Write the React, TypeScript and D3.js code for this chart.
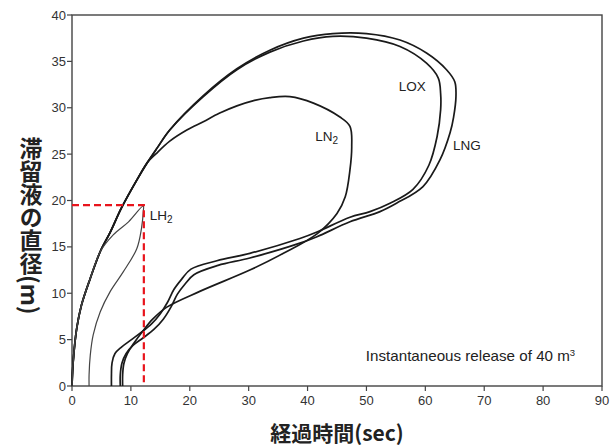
import React from "react";
import * as d3 from "d3";

type P = [number, number];

const xTicks = [0, 10, 20, 30, 40, 50, 60, 70, 80, 90];
const yTicks = [0, 5, 10, 15, 20, 25, 30, 35, 40];

const sharedRise: P[] = [[0,0],[0.2,2.6],[0.8,6.2],[1.6,8.7],[3.1,11.6],[4.8,14.5],[6.5,16.6],[8.4,19.2],[11,22.2],[12.8,24.1]];

const loxRest: P[] = [[14.5,25.7],[16.6,27.6],[22.3,31.2],[28,34.1],[33.6,36],[39.3,37.2],[44.3,37.7],[50,37.5],[55.7,36.6],[60.2,34.8],[62.2,33.2],[62.6,31.5],[62.6,29.8],[62.0,26.9],[60.6,23.8],[57.9,21.2],[54,19.7],[50.6,18.8],[47.2,18.2],[41.6,16.6],[38.7,15.9],[30.2,14.3],[24.6,13.5],[20.2,12.6],[18.6,11.5],[17.3,10.4],[16.2,9.0],[15.0,7.8],[13.5,6.7],[11.8,5.8],[10.1,5.0],[8.4,4.2],[7.3,3.5],[6.8,2.5],[6.7,1.2],[6.7,0]];

const lngRest: P[] = [[14.5,25.7],[16.6,27.6],[22.3,31.3],[28,34.2],[33.6,36.2],[39.3,37.5],[44.3,38],[50,38],[55.7,37.3],[60.2,35.9],[63.6,34.1],[65,32.8],[65.2,31.2],[64.8,29],[64.2,27.3],[62.5,24.4],[59.6,21.5],[55.1,19.7],[52.3,18.8],[47.2,17.7],[41.6,16.1],[38.7,15.4],[30.2,13.8],[24.8,13.0],[20.7,12.0],[19.2,11.0],[17.9,9.9],[16.8,8.5],[15.5,7.2],[13.9,6.1],[12.1,5.2],[10.4,4.4],[9.2,3.5],[8.5,2.5],[8.2,1.2],[8.2,0]];

const ln2Rest: P[] = [[14.2,25.0],[16.6,26.4],[19.5,27.6],[22.3,28.5],[25,29.4],[28,30.2],[31,30.8],[33.6,31.1],[37,31.2],[41,30.5],[45.5,29],[47.2,28],[47.5,25.8],[47.2,23.3],[46.4,20.4],[45,18.6],[41.6,16.4],[35.9,14.3],[30.2,12.5],[21.7,10.2],[16.1,8.5],[13.7,7.2],[12.0,5.9],[10.5,4.6],[9.4,3.5],[8.8,2.4],[8.6,1.2],[8.6,0]];

const lh2: P[] = [[0,0],[0.2,2.6],[0.8,6.2],[1.6,8.7],[3.1,11.6],[4.8,14.5],[7,16.3],[9.6,17.7],[12.1,19.4],[12.1,18.8],[11.8,17],[11,14.8],[8.7,12.3],[6.5,10.2],[4.8,8],[3.6,5.5],[3.1,3.3],[2.9,1.2],[2.9,0]];

const redGuide: P[] = [[0,19.5],[12.2,19.5],[12.2,0]];

const labels = [
  { name: "LH", sub: "2", x: 13.2, y: 17.9 },
  { name: "LN", sub: "2", x: 41.3, y: 26.4 },
  { name: "LOX", sub: "", x: 55.5, y: 31.8 },
  { name: "LNG", sub: "", x: 64.7, y: 25.4 },
];

const W = 611, H = 446;

export default function App() {
  const x = d3.scaleLinear().domain([0, 90]).range([72, 602]);
  const y = d3.scaleLinear().domain([0, 40]).range([386, 15]);
  const line = d3.line<P>().x(d => x(d[0])).y(d => y(d[1])).curve(d3.curveCatmullRom.alpha(0.5));
  const straight = d3.line<P>().x(d => x(d[0])).y(d => y(d[1]));
  const curves = [
    sharedRise.concat(ln2Rest),
    sharedRise.concat(loxRest),
    sharedRise.concat(lngRest),
  ];
  const font = "'Liberation Sans', Arial, sans-serif";
  return (
    <svg width={W} height={H} style={{ position: "absolute", left: 0, top: 0, background: "#fff" }}>
      <rect x={x(0)} y={y(40)} width={x(90) - x(0)} height={y(0) - y(40)} fill="none" stroke="#444" strokeWidth={1.4} />
      {yTicks.map(t => (
        <g key={"y" + t}>
          <line x1={x(0) - 5} x2={x(0)} y1={y(t)} y2={y(t)} stroke="#444" strokeWidth={1.2} />
          <text x={x(0) - 6} y={y(t)} dy="0.35em" textAnchor="end" fontFamily={font} fontSize={13} fill="#333">{t}</text>
        </g>
      ))}
      {xTicks.map(t => (
        <g key={"x" + t}>
          <line x1={x(t)} x2={x(t)} y1={y(0)} y2={y(0) + 5} stroke="#444" strokeWidth={1.2} />
          <text x={x(t)} y={y(0) + 19} textAnchor="middle" fontFamily={font} fontSize={13} fill="#333">{t}</text>
        </g>
      ))}
      {curves.map((c, i) => (
        <path key={i} d={line(c) || ""} fill="none" stroke="#1a1a1a" strokeWidth={1.7} />
      ))}
      <path d={line(lh2) || ""} fill="none" stroke="#444" strokeWidth={1.2} />
      <path d={straight(redGuide) || ""} fill="none" stroke="#e8141c" strokeWidth={2.2} strokeDasharray="7,4" />
      {labels.map(l => (
        <text key={l.name + l.sub} x={x(l.x)} y={y(l.y)} fontFamily={font} fontSize={13.5} fill="#222">
          {l.name}
          {l.sub && <tspan fontSize={10} dy={3}>{l.sub}</tspan>}
        </text>
      ))}
      <text x={x(49.9)} y={y(2.7)} fontFamily={font} fontSize={14.5} fill="#222">
        <tspan textLength={204} lengthAdjust="spacingAndGlyphs">Instantaneous release of 40 m</tspan><tspan fontSize={9.5} dy={-5}>3</tspan>
      </text>
      <text x={337} y={441} textAnchor="middle" fontFamily="'Noto Sans CJK JP', sans-serif" fontWeight="bold" fontSize={21} fill="#222">経過時間(sec)</text>
      <text x={31} y={137} fontFamily="'Noto Sans CJK JP', sans-serif" fontWeight="bold" fontSize={23} fill="#222" style={{ writingMode: "vertical-rl" } as any}>滞留液の直径(m)</text>
    </svg>
  );
}
